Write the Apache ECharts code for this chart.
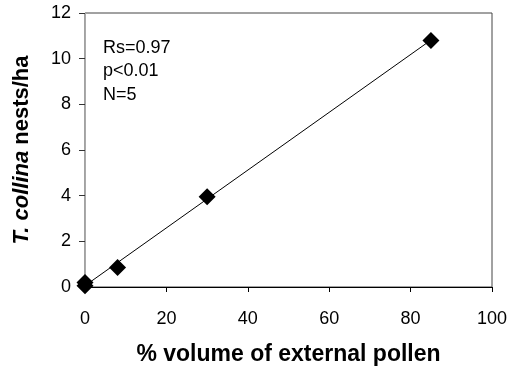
<!DOCTYPE html>
<html>
<head>
<meta charset="utf-8">
<script src="https://cdn.jsdelivr.net/npm/echarts@6/dist/echarts.min.js"></script>
<style>
  html, body { margin: 0; padding: 0; background: #fff; }
  #chart { width: 515px; height: 371px; }
</style>
</head>
<body>
<div id="chart"></div>
<script>
// data
const pollenPct = [0, 0, 8, 30, 85];
const nestsPerHa = [0.05, 0.2, 0.85, 3.95, 10.8];
const statsLines = ['Rs=0.97', 'p<0.01', 'N=5'];

// least squares line through the points
const n = pollenPct.length;
const mx = pollenPct.reduce((a, b) => a + b, 0) / n;
const my = nestsPerHa.reduce((a, b) => a + b, 0) / n;
let sxy = 0, sxx = 0;
for (let i = 0; i < n; i++) {
  sxy += (pollenPct[i] - mx) * (nestsPerHa[i] - my);
  sxx += (pollenPct[i] - mx) * (pollenPct[i] - mx);
}
const slope = sxy / sxx;
const icpt = my - slope * mx;
const xMin = Math.min(...pollenPct), xMax = Math.max(...pollenPct);
const fitLine = [[xMin, icpt + slope * xMin], [xMax, icpt + slope * xMax]];

const chart = echarts.init(document.getElementById('chart'));
const font = 'Liberation Sans, Arial, sans-serif';

chart.setOption({
  animation: false,
  grid: {
    left: 85, right: 23, top: 13, bottom: 82,
    show: true, borderColor: '#444', borderWidth: 1, backgroundColor: '#fff'
  },
  xAxis: {
    type: 'value', min: 0, max: 100, interval: 20,
    name: '% volume of external pollen',
    nameLocation: 'middle', nameGap: 56,
    nameTextStyle: { fontFamily: font, fontSize: 23, fontWeight: 'bold', color: '#000' },
    axisLine: { show: true, lineStyle: { color: '#000', width: 1 } },
    axisTick: { show: true, inside: false, length: 5, lineStyle: { color: '#000' } },
    axisLabel: { fontFamily: font, fontSize: 18, color: '#000', margin: 23 },
    splitLine: { show: false }
  },
  yAxis: {
    type: 'value', min: 0, max: 12, interval: 2,
    name: '{i|T. collina} nests/ha',
    nameLocation: 'middle', nameGap: 52,
    nameTextStyle: {
      fontFamily: font, fontSize: 22, fontWeight: 'bold', color: '#000',
      rich: { i: { fontFamily: font, fontSize: 22, fontWeight: 'bold', fontStyle: 'italic', color: '#000' } }
    },
    axisLine: { show: true, lineStyle: { color: '#aaa', width: 1 } },
    axisTick: { show: true, inside: false, length: 6, lineStyle: { color: '#333' } },
    axisLabel: { fontFamily: font, fontSize: 18, color: '#000', margin: 14 },
    splitLine: { show: false }
  },
  graphic: statsLines.map((t, i) => ({
    type: 'text', left: 103, top: 39 + i * 23.5,
    style: { text: t, font: '18px ' + font, fill: '#000' }
  })),
  series: [
    {
      type: 'line', data: fitLine, symbol: 'none',
      lineStyle: { color: '#000', width: 1 }, z: 2
    },
    {
      type: 'scatter', data: pollenPct.map((x, i) => [x, nestsPerHa[i]]),
      symbol: 'diamond', symbolSize: 17,
      itemStyle: { color: '#000', opacity: 1 }, z: 3
    }
  ]
});
</script>
</body>
</html>
